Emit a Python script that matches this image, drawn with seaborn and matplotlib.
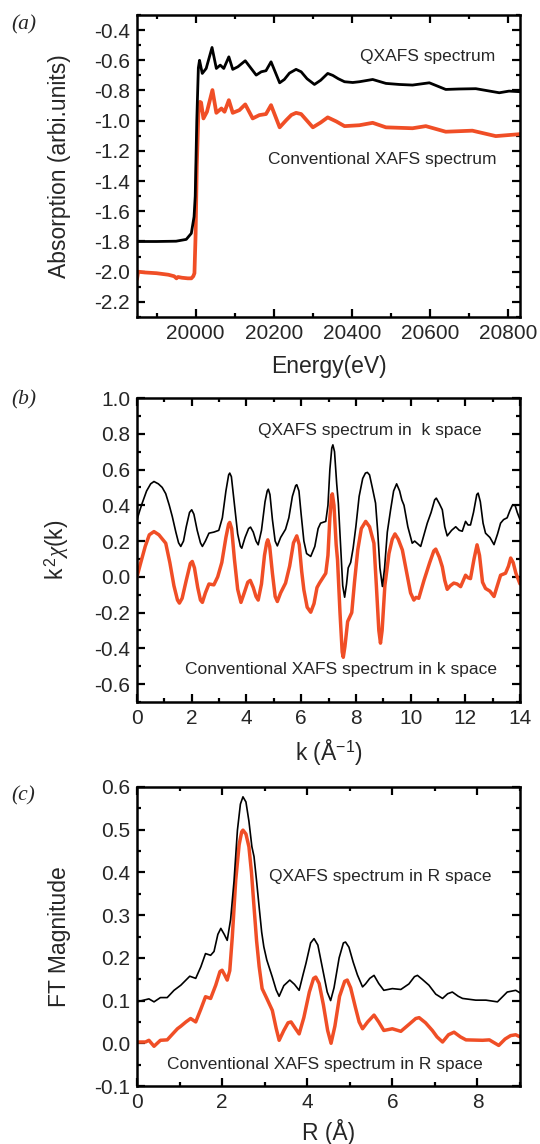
import numpy as np
import pandas as pd
import matplotlib
matplotlib.use("Agg")
import matplotlib.pyplot as plt
import seaborn as sns
from matplotlib.ticker import MultipleLocator, FormatStrFormatter

# ---------------- data ----------------
# Panel (a): absorption vs energy
a_energy_q = [19850, 19900, 19950, 19976, 19989, 19996, 19999, 20003, 20007, 20010,
              20017, 20027, 20042, 20053, 20063, 20072, 20085, 20095, 20108, 20127,
              20155, 20168, 20180, 20193, 20215, 20227, 20240, 20257, 20270, 20285,
              20304, 20320, 20338, 20351, 20365, 20381, 20402, 20419, 20453, 20487,
              20521, 20555, 20598, 20640, 20674, 20717, 20777, 20802, 20830]
a_abs_q = [-1.800, -1.800, -1.798, -1.786, -1.746, -1.636, -1.50, -1.00, -0.65, -0.600,
           -0.687, -0.654, -0.515, -0.654, -0.632, -0.654, -0.577, -0.660, -0.643, -0.603,
           -0.698, -0.676, -0.669, -0.610, -0.749, -0.727, -0.685, -0.660, -0.676, -0.722,
           -0.760, -0.732, -0.687, -0.700, -0.722, -0.742, -0.747, -0.742, -0.727, -0.753,
           -0.760, -0.764, -0.749, -0.793, -0.790, -0.788, -0.815, -0.804, -0.808]

a_energy_c = [19850, 19853, 19870, 19900, 19930, 19945, 19951, 19955, 19965, 19980,
              19989, 19994, 19997, 20000, 20003, 20007, 20011, 20014, 20020, 20029,
              20043, 20053, 20066, 20074, 20085, 20095, 20112, 20127, 20146, 20163,
              20180, 20193, 20215, 20232, 20245, 20257, 20270, 20285, 20300, 20320,
              20338, 20360, 20381, 20419, 20453, 20487, 20555, 20589, 20640, 20708,
              20768, 20830]
a_abs_c = [-2.05, -2.00, -2.005, -2.010, -2.020, -2.030, -2.044, -2.035, -2.040, -2.044,
           -2.044, -2.030, -2.010, -1.75, -1.30, -0.95, -0.875, -0.880, -0.985, -0.941,
           -0.797, -0.948, -0.919, -0.941, -0.864, -0.948, -0.930, -0.892, -0.985, -0.963,
           -0.956, -0.897, -1.044, -0.996, -0.962, -0.948, -0.956, -1.000, -1.044, -1.012,
           -0.978, -1.005, -1.036, -1.030, -1.014, -1.044, -1.050, -1.036, -1.073, -1.066,
           -1.102, -1.089]

# Panel (b): k^2 chi(k)
b_k_q = [0.0, 0.1, 0.19, 0.35, 0.5, 0.62, 0.78, 0.92, 1.05, 1.18, 1.29, 1.42, 1.52, 1.60,
         1.70, 1.80, 1.92, 2.00, 2.08, 2.2, 2.32, 2.39, 2.5, 2.63, 2.81, 2.99, 3.12, 3.25,
         3.35, 3.39, 3.45, 3.55, 3.68, 3.78, 3.83, 3.95, 4.08, 4.15, 4.25, 4.35, 4.43,
         4.55, 4.68, 4.76, 4.80, 4.86, 4.95, 5.05, 5.13, 5.25, 5.43, 5.55, 5.68, 5.80,
         5.84, 5.92, 6.0, 6.10, 6.2, 6.35, 6.5, 6.62, 6.71, 6.90, 6.98, 7.05, 7.12, 7.16,
         7.22, 7.30, 7.36, 7.45, 7.52, 7.59, 7.66, 7.72, 7.81, 7.9, 8.0, 8.12, 8.25, 8.35,
         8.42, 8.5, 8.6, 8.72, 8.8, 8.88, 8.97, 9.05, 9.15, 9.27, 9.38, 9.49, 9.6, 9.68,
         9.76, 9.9, 10.06, 10.15, 10.24, 10.37, 10.5, 10.61, 10.75, 10.88, 10.94, 11.05,
         11.16, 11.25, 11.34, 11.5, 11.65, 11.78, 11.89, 12.01, 12.1, 12.19, 12.3, 12.42,
         12.47, 12.55, 12.65, 12.74, 12.9, 13.05, 13.18, 13.29, 13.4, 13.53, 13.63, 13.72,
         13.82, 13.9, 14.0]
b_chi_q = [0.319, 0.37, 0.412, 0.48, 0.52, 0.533, 0.52, 0.50, 0.465, 0.40, 0.337, 0.25,
           0.19, 0.170, 0.20, 0.28, 0.36, 0.375, 0.35, 0.26, 0.19, 0.170, 0.20, 0.244,
           0.250, 0.260, 0.33, 0.48, 0.57, 0.580, 0.56, 0.42, 0.24, 0.17, 0.160, 0.22,
           0.27, 0.278, 0.25, 0.20, 0.179, 0.26, 0.42, 0.48, 0.490, 0.46, 0.32, 0.20,
           0.173, 0.22, 0.266, 0.33, 0.45, 0.51, 0.515, 0.48, 0.35, 0.20, 0.13, 0.114,
           0.17, 0.27, 0.300, 0.31, 0.40, 0.60, 0.72, 0.738, 0.70, 0.52, 0.412, 0.15,
           -0.05, -0.114, -0.04, 0.05, 0.080, 0.16, 0.28, 0.45, 0.55, 0.58, 0.584, 0.57,
           0.50, 0.412, 0.25, 0.05, -0.054, 0.05, 0.25, 0.375, 0.48, 0.520, 0.48, 0.43,
           0.40, 0.28, 0.188, 0.20, 0.188, 0.17, 0.24, 0.300, 0.36, 0.43, 0.44, 0.41,
           0.375, 0.28, 0.229, 0.26, 0.280, 0.26, 0.255, 0.310, 0.29, 0.29, 0.36, 0.46,
           0.468, 0.42, 0.30, 0.244, 0.22, 0.180, 0.24, 0.300, 0.32, 0.330, 0.37, 0.400,
           0.40, 0.36, 0.32]

b_k_c = [0.0, 0.13, 0.3, 0.45, 0.62, 0.8, 1.05, 1.2, 1.35, 1.48, 1.55, 1.65, 1.8, 1.95,
         2.02, 2.1, 2.22, 2.32, 2.39, 2.5, 2.63, 2.81, 2.95, 3.1, 3.25, 3.35, 3.39, 3.46,
         3.56, 3.68, 3.80, 3.92, 4.05, 4.14, 4.25, 4.35, 4.43, 4.55, 4.66, 4.74, 4.78,
         4.85, 4.95, 5.05, 5.13, 5.25, 5.43, 5.58, 5.72, 5.84, 5.93, 6.02, 6.10, 6.22,
         6.35, 6.47, 6.58, 6.67, 6.90, 6.98, 7.05, 7.11, 7.14, 7.2, 7.28, 7.33, 7.42,
         7.50, 7.54, 7.60, 7.7, 7.85, 7.95, 8.07, 8.2, 8.36, 8.5, 8.66, 8.75, 8.84, 8.90,
         8.96, 9.06, 9.21, 9.33, 9.43, 9.55, 9.70, 9.85, 10.00, 10.12, 10.20, 10.30,
         10.49, 10.7, 10.85, 10.92, 11.05, 11.16, 11.25, 11.34, 11.45, 11.58, 11.70,
         11.83, 12.01, 12.1, 12.19, 12.32, 12.43, 12.52, 12.63, 12.74, 12.9, 13.05,
         13.17, 13.29, 13.47, 13.58, 13.66, 13.75, 13.85, 14.0]
b_chi_c = [0.000, 0.075, 0.17, 0.235, 0.253, 0.235, 0.188, 0.08, -0.05, -0.13, -0.147,
           -0.12, -0.02, 0.075, 0.086, 0.05, -0.06, -0.13, -0.143, -0.09, -0.040, -0.045,
           0.0, 0.08, 0.22, 0.295, 0.304, 0.27, 0.10, -0.07, -0.143, -0.09, -0.03, -0.020,
           -0.06, -0.11, -0.130, -0.04, 0.12, 0.19, 0.207, 0.17, 0.02, -0.11, -0.138,
           -0.09, -0.035, 0.06, 0.19, 0.229, 0.18, 0.03, -0.073, -0.17, -0.198, -0.15,
           -0.06, -0.035, 0.020, 0.12, 0.33, 0.45, 0.464, 0.40, 0.18, 0.095, -0.20, -0.42,
           -0.450, -0.39, -0.25, -0.200, -0.03, 0.151, 0.27, 0.310, 0.28, 0.188, -0.05,
           -0.30, -0.371, -0.30, -0.05, 0.130, 0.21, 0.240, 0.21, 0.150, 0.03, -0.090,
           -0.130, -0.115, -0.120, -0.020, 0.08, 0.145, 0.155, 0.11, 0.056, -0.02, -0.070,
           -0.05, -0.035, -0.04, -0.055, 0.009, -0.005, -0.010, 0.10, 0.179, 0.12, -0.03,
           -0.065, -0.08, -0.110, -0.05, 0.009, 0.020, 0.06, 0.105, 0.08, 0.02, -0.040]

# Panel (c): FT magnitude vs R
c_r_q = [0.0, 0.12, 0.28, 0.40, 0.55, 0.71, 0.87, 1.03, 1.15, 1.24, 1.38, 1.50, 1.61,
         1.73, 1.81, 1.90, 1.97, 2.05, 2.12, 2.2, 2.28, 2.36, 2.43, 2.49, 2.56, 2.63,
         2.70, 2.75, 2.81, 2.87, 2.93, 2.98, 3.05, 3.18, 3.27, 3.34, 3.45, 3.59, 3.70,
         3.81, 3.90, 3.97, 4.08, 4.16, 4.25, 4.35, 4.47, 4.55, 4.63, 4.75, 4.85, 4.90,
         4.98, 5.08, 5.18, 5.30, 5.37, 5.47, 5.57, 5.68, 5.80, 6.00, 6.20, 6.39, 6.52,
         6.59, 6.70, 6.86, 7.02, 7.18, 7.30, 7.41, 7.55, 7.65, 7.96, 8.20, 8.47, 8.60,
         8.70, 8.90, 9.0]
c_ft_q = [0.097, 0.100, 0.104, 0.097, 0.107, 0.107, 0.124, 0.136, 0.148, 0.157, 0.152,
          0.179, 0.210, 0.206, 0.215, 0.255, 0.269, 0.255, 0.241, 0.29, 0.38, 0.499,
          0.56, 0.577, 0.565, 0.520, 0.46, 0.437, 0.38, 0.319, 0.26, 0.226, 0.195, 0.155,
          0.125, 0.110, 0.135, 0.148, 0.138, 0.124, 0.160, 0.187, 0.235, 0.245, 0.230,
          0.18, 0.12, 0.100, 0.13, 0.20, 0.235, 0.237, 0.225, 0.19, 0.160, 0.132, 0.139,
          0.152, 0.159, 0.140, 0.124, 0.128, 0.126, 0.139, 0.156, 0.159, 0.150, 0.136,
          0.115, 0.105, 0.116, 0.120, 0.110, 0.105, 0.101, 0.101, 0.097, 0.110, 0.120,
          0.124, 0.118]

c_r_c = [0.0, 0.20, 0.28, 0.40, 0.55, 0.71, 0.82, 0.95, 1.03, 1.15, 1.26, 1.38, 1.50,
         1.61, 1.73, 1.85, 1.95, 2.00, 2.06, 2.12, 2.18, 2.24, 2.32, 2.40, 2.46, 2.49,
         2.56, 2.63, 2.69, 2.75, 2.81, 2.87, 2.94, 3.05, 3.18, 3.27, 3.34, 3.45, 3.55,
         3.62, 3.72, 3.81, 3.92, 4.05, 4.15, 4.20, 4.28, 4.38, 4.48, 4.56, 4.65, 4.76,
         4.88, 4.94, 5.02, 5.13, 5.22, 5.30, 5.42, 5.57, 5.68, 5.80, 6.00, 6.20, 6.40,
         6.55, 6.63, 6.78, 6.94, 7.05, 7.18, 7.32, 7.45, 7.60, 7.73, 8.12, 8.28, 8.50,
         8.65, 8.78, 8.90, 9.0]
c_ft_c = [0.003, 0.003, 0.007, -0.007, 0.007, 0.008, 0.020, 0.034, 0.040, 0.050, 0.058,
          0.050, 0.080, 0.109, 0.105, 0.136, 0.168, 0.171, 0.160, 0.148, 0.170, 0.250,
          0.382, 0.465, 0.495, 0.499, 0.490, 0.460, 0.400, 0.319, 0.240, 0.180, 0.128,
          0.105, 0.077, 0.035, 0.007, 0.030, 0.048, 0.050, 0.035, 0.022, 0.060, 0.120,
          0.152, 0.155, 0.140, 0.090, 0.030, 0.000, 0.040, 0.110, 0.145, 0.148, 0.130,
          0.085, 0.050, 0.034, 0.050, 0.066, 0.050, 0.030, 0.034, 0.028, 0.045, 0.058,
          0.060, 0.048, 0.030, 0.015, 0.003, 0.020, 0.026, 0.015, 0.008, 0.007, 0.008,
          -0.005, 0.010, 0.018, 0.020, 0.015]

# ---------------- style ----------------
sns.set_style("ticks")
plt.rcParams["font.family"] = ["Liberation Sans", "DejaVu Sans"]
plt.rcParams["axes.unicode_minus"] = False
plt.rcParams["mathtext.fontset"] = "custom"
plt.rcParams["mathtext.rm"] = "Liberation Sans"
plt.rcParams["mathtext.it"] = "Liberation Serif:italic"
plt.rcParams["mathtext.bf"] = "Liberation Sans:bold"

BLACK = "#000000"
ORANGE = "#F04E26"

fig = plt.figure(figsize=(5.4, 11.44), dpi=100)
W, H = 540.0, 1144.0

def add_ax(top_px, bottom_px, left_px=137, right_px=520):
    return fig.add_axes([left_px / W, 1 - bottom_px / H,
                         (right_px - left_px) / W, (bottom_px - top_px) / H])

ax_a = add_ax(15, 317)
ax_b = add_ax(398, 702)
ax_c = add_ax(787, 1086)

def style_axis(ax, xmaj, xmin, ymaj, ymin, xfmt, yfmt):
    for s in ax.spines.values():
        s.set_visible(True)
        s.set_linewidth(1.8)
        s.set_color("black")
    ax.xaxis.set_major_locator(MultipleLocator(xmaj))
    ax.xaxis.set_minor_locator(MultipleLocator(xmin))
    ax.yaxis.set_major_locator(MultipleLocator(ymaj))
    ax.yaxis.set_minor_locator(MultipleLocator(ymin))
    ax.xaxis.set_major_formatter(FormatStrFormatter(xfmt))
    ax.yaxis.set_major_formatter(FormatStrFormatter(yfmt))
    ax.tick_params(which="both", direction="in", top=True, right=True,
                   width=1.6, color="black")
    ax.tick_params(which="major", length=5.5, labelsize=15, pad=5)
    ax.tick_params(which="minor", length=3.2)
    ax.grid(False)

def draw(ax, xs, ys, color, lw):
    df = pd.DataFrame({"x": xs, "y": ys})
    sns.lineplot(data=df, x="x", y="y", ax=ax, color=color, lw=lw,
                 estimator=None, sort=False)

# Panel (a)
draw(ax_a, a_energy_c, a_abs_c, ORANGE, 2.7)
draw(ax_a, a_energy_q, a_abs_q, BLACK, 2.0)
ax_a.set_xlim(19850, 20830)
ax_a.set_ylim(-2.3, -0.3)
style_axis(ax_a, 200, 100, 0.2, 0.1, "%d", "%.1f")
ax_a.set_xlabel("Energy(eV)", fontsize=16.5)
ax_a.set_ylabel("Absorption (arbi.units)", fontsize=16.5)
ax_a.xaxis.set_label_coords(0.5, -0.125)
ax_a.yaxis.set_label_coords(-0.172, 0.5)
ax_a.text(20593, -0.572, "QXAFS spectrum", fontsize=12.5, ha="center", va="center")
ax_a.text(20478, -1.254, "Conventional XAFS spectrum", fontsize=12.5, ha="center", va="center")

# Panel (b)
draw(ax_b, b_k_c, b_chi_c, ORANGE, 2.5)
draw(ax_b, b_k_q, b_chi_q, BLACK, 1.2)
ax_b.set_xlim(0, 14)
ax_b.set_ylim(-0.7, 1.0)
style_axis(ax_b, 2, 1, 0.2, 0.1, "%d", "%.1f")
ax_b.set_xlabel(r"k (Å$^{-1}$)", fontsize=16.5)
ax_b.set_ylabel(r"k$^{\,2}$$\chi$(k)", fontsize=16.5)
ax_b.xaxis.set_label_coords(0.5, -0.115)
ax_b.yaxis.set_label_coords(-0.172, 0.5)
ax_b.text(8.5, 0.818, "QXAFS spectrum in  k space", fontsize=12.5, ha="center", va="center")
ax_b.text(7.45, -0.52, "Conventional XAFS spectrum in k space", fontsize=12.5, ha="center", va="center")

# Panel (c)
draw(ax_c, c_r_c, c_ft_c, ORANGE, 2.5)
draw(ax_c, c_r_q, c_ft_q, BLACK, 1.2)
ax_c.set_xlim(0, 9)
ax_c.set_ylim(-0.1, 0.6)
style_axis(ax_c, 2, 1, 0.1, 0.05, "%d", "%.1f")
ax_c.set_xlabel("R (Å)", fontsize=16.5)
ax_c.set_ylabel("FT Magnitude", fontsize=16.5)
ax_c.xaxis.set_label_coords(0.5, -0.11)
ax_c.yaxis.set_label_coords(-0.172, 0.5)
ax_c.text(5.71, 0.39, "QXAFS spectrum in R space", fontsize=12.5, ha="center", va="center")
ax_c.text(4.41, -0.049, "Conventional XAFS spectrum in R space", fontsize=12.5, ha="center", va="center")

# panel letters
for lab, ypx in [("(a)", 25), ("(b)", 400), ("(c)", 796)]:
    fig.text(11 / W, 1 - ypx / H, lab, fontsize=15.5, family="Liberation Serif",
             style="italic", ha="left", va="center")

fig.savefig("out.png", dpi=100)
